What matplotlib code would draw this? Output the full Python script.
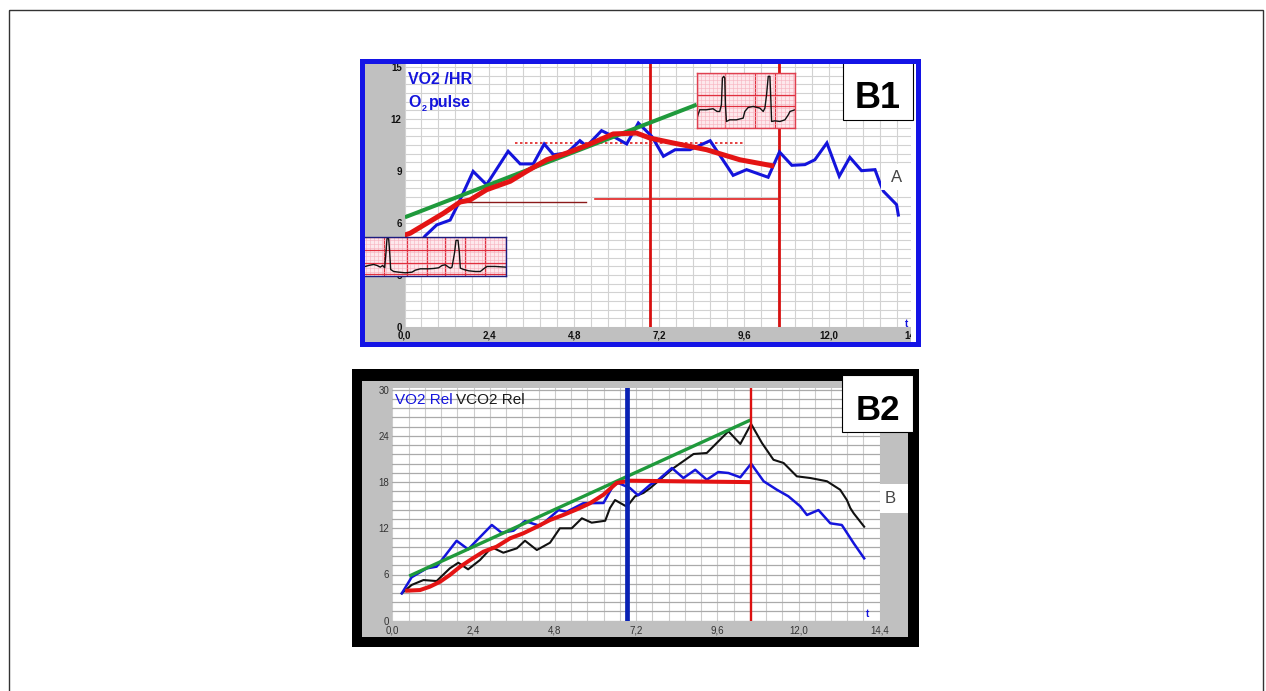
import matplotlib
matplotlib.use('Agg')
import matplotlib.pyplot as plt
from matplotlib.patches import Rectangle
from matplotlib.ticker import MultipleLocator

W, H = 1266, 691
plt.rcParams['font.family'] = ['Liberation Sans', 'DejaVu Sans']

# ---------------- B1 data : O2 pulse (VO2/HR) ----------------
b1_pulse_t = [0.45, 0.58, 0.91, 1.29, 1.48, 1.94, 2.32, 2.93, 3.27, 3.64, 3.95, 4.21, 4.59,
              4.96, 5.15, 5.57, 5.90, 6.28, 6.61, 6.99, 7.32, 7.65, 8.07, 8.64, 9.29,
              9.67, 10.28, 10.60, 10.95, 11.32, 11.60, 11.94, 12.29, 12.59, 12.92,
              13.30, 13.44, 13.54, 13.91, 13.96]
b1_pulse = [4.9, 5.25, 5.89, 6.17, 6.94, 8.98, 8.21, 10.14, 9.41, 9.41, 10.56, 9.94, 10.04,
            10.75, 10.43, 11.33, 11.00, 10.56, 11.77, 11.00, 9.85, 10.23, 10.23, 10.75, 8.75,
            9.08, 8.64, 10.10, 9.33, 9.37, 9.65, 10.62, 8.70, 9.79, 9.02,
            9.08, 8.31, 7.83, 7.06, 6.46]
b1_smooth_t = [0.0, 0.16, 1.10, 1.57, 1.85, 2.32, 2.99, 3.45, 4.02, 4.59, 5.15, 5.90,
               6.56, 6.94, 7.59, 8.54, 9.48, 10.38]
b1_smooth = [5.30, 5.41, 6.56, 7.21, 7.33, 7.92, 8.41, 8.98, 9.65, 10.04, 10.48, 11.14,
             11.19, 10.90, 10.62, 10.23, 9.65, 9.31]
b1_trend_t = [0.01, 8.26]
b1_trend = [6.33, 12.83]
b1_vlines = [6.94, 10.60]
b1_dotted_t = [3.12, 9.57]
b1_dotted_y = 10.63
b1_hline1_t = [1.65, 5.13]
b1_hline1_y = 7.21
b1_hline2_t = [5.39, 10.59]
b1_hline2_y = 7.40
b1_xticks = [0.0, 2.4, 4.8, 7.2, 9.6, 12.0]
b1_xlabels = ['0,0', '2,4', '4,8', '7,2', '9,6', '12,0']
b1_yticks = [0, 3, 6, 9, 12, 15]
b1_ylabels = ['0', '3', '6', '9', '12', '15']

# ---------------- B2 data : VO2 Rel / VCO2 Rel ----------------
b2_vo2_t = [0.28, 0.57, 1.02, 1.31, 1.90, 2.24, 2.94, 3.23, 3.58, 3.92, 4.37, 4.91, 5.15,
            5.64, 6.24, 6.53, 6.68, 7.02, 7.26, 7.62, 7.81, 8.26, 8.60, 8.95, 9.29, 9.63,
            9.93, 10.28, 10.60, 10.97, 11.36, 11.70, 12.05, 12.25, 12.59, 12.94, 13.28,
            13.63, 13.94]
b2_vo2 = [3.55, 5.64, 6.80, 7.02, 10.38, 9.27, 12.43, 11.42, 11.69, 12.94, 12.30, 14.37, 14.15,
          15.25, 15.29, 17.58, 17.88, 17.23, 16.29, 17.66, 18.11, 19.83, 18.53, 19.60, 18.31,
          19.31, 19.18, 18.62, 20.39, 18.11, 17.01, 16.16, 14.86, 13.73, 14.37, 12.65,
          12.43, 10.06, 8.10]
b2_vco2_t = [0.28, 0.57, 0.92, 1.31, 1.70, 1.95, 2.24, 2.59, 2.94, 3.28, 3.68, 3.92, 4.27,
             4.66, 4.95, 5.30, 5.60, 5.89, 6.29, 6.43, 6.58, 6.93, 7.17, 7.42, 7.62, 8.31,
             8.90, 9.29, 9.93, 10.28, 10.60, 10.92, 11.26, 11.56, 11.95, 12.35, 12.84,
             13.23, 13.43, 13.53, 13.63, 13.94]
b2_vco2 = [3.55, 4.64, 5.28, 5.15, 6.80, 7.53, 6.67, 7.88, 9.53, 8.83, 9.40, 10.39, 9.18,
           10.13, 12.00, 12.00, 13.30, 12.73, 12.98, 14.63, 15.67, 14.80, 16.15, 16.59, 17.23,
           19.83, 21.65, 21.78, 24.60, 22.95, 25.55, 23.08, 20.90, 20.48, 18.75, 18.53,
           18.11, 17.01, 15.67, 14.63, 13.95, 12.21]
b2_smooth_t = [0.44, 0.82, 1.11, 1.41, 1.70, 2.00, 2.30, 2.69, 3.08, 3.48, 3.87, 4.27, 4.66,
               5.05, 5.45, 5.84, 6.24, 6.63, 7.02, 7.60, 8.50, 9.50, 10.52]
b2_smooth = [3.90, 3.98, 4.42, 5.06, 5.94, 7.00, 7.88, 8.96, 9.61, 10.70, 11.35, 12.20, 13.08,
             13.73, 14.46, 15.25, 16.37, 17.89, 18.18, 18.15, 18.10, 18.05, 18.00]
b2_trend_t = [0.50, 10.60]
b2_trend = [5.80, 26.10]
b2_vline_blue = 6.92
b2_vline_red = 10.60
b2_xticks = [0.0, 2.4, 4.8, 7.2, 9.6, 12.0, 14.4]
b2_xlabels = ['0,0', '2,4', '4,8', '7,2', '9,6', '12,0', '14,4']
b2_yticks = [0, 6, 12, 18, 24, 30]
b2_ylabels = ['0', '6', '12', '18', '24', '30']

# ---------------- ECG strip traces (inset picture coordinates) ----------------
ecg1_x = [3, 20, 35, 45, 55, 62, 68, 72, 75, 80, 83, 86, 95, 110, 130, 150, 160, 175, 200,
          215, 230, 240, 250, 258, 265, 270, 278, 282, 288, 292, 295, 305, 320, 340, 355,
          365, 375, 400, 432]
ecg1_y = [105, 100, 97, 100, 105, 100, 107, 60, 20, 20, 60, 112, 118, 120, 122, 120, 114,
          110, 110, 109, 107, 100, 98, 104, 108, 105, 60, 25, 25, 60, 108, 112, 116, 118,
          118, 110, 103, 103, 105]
ecg1_major_x = [3, 65, 135, 195, 250, 310, 370, 432]
ecg1_major_y = [15, 55, 93, 127]
ecg2_x = [12, 20, 40, 60, 72, 80, 85, 88, 92, 95, 97, 100, 110, 130, 150, 155, 165, 180,
          200, 210, 215, 220, 225, 230, 233, 235, 245, 260, 275, 285, 290, 305]
ecg2_y = [150, 125, 125, 122, 130, 130, 110, 30, 25, 30, 110, 160, 155, 155, 150, 130, 118,
          115, 120, 130, 120, 80, 25, 25, 100, 160, 158, 160, 155, 140, 130, 125]
ecg2_major_x = [12, 95, 185, 245, 305]
ecg2_major_y = [15, 80, 115, 178]

# ---------------- colours ----------------
BLUE = '#1414dc'
RED = '#e41414'
GREEN = '#1f9a3c'
GRAY = '#c0c0c0'

fig = plt.figure(figsize=(W / 100, H / 100), dpi=100)


def px_axes(x0, y0, x1, y1, z):
    return fig.add_axes([x0 / W, 1 - y1 / H, (x1 - x0) / W, (y1 - y0) / H], zorder=z)


def rect(ax, x0, y0, x1, y1, **kw):
    ax.add_patch(Rectangle((x0, y0), x1 - x0, y1 - y0, **kw))


bg = px_axes(0, 0, W, H, 0)
bg.set_xlim(0, W)
bg.set_ylim(H, 0)
bg.axis('off')
rect(bg, 8.5, 9.5, 1262.5, 720, fill=False, ec='#333333', lw=1.0)
# B1 frame background
rect(bg, 362, 60, 917, 344, fc='white', ec='none')
rect(bg, 364, 62, 404.5, 342, fc=GRAY, ec='none')
rect(bg, 364, 327, 910.5, 342, fc=GRAY, ec='none')
# B2 frame background
rect(bg, 352, 369, 919, 647, fc='black', ec='none')
rect(bg, 362, 381, 908, 637, fc=GRAY, ec='none')

# ================= B1 plot =================
ax1 = px_axes(404.5, 61.5, 910.5, 327, 1)
ax1.set_xlim(0, (910.5 - 404.5) / 35.375)
ax1.set_ylim(0, (327 - 61.5) / 17.33)
ax1.xaxis.set_minor_locator(MultipleLocator(0.48))
ax1.yaxis.set_minor_locator(MultipleLocator(0.5))
ax1.set_axisbelow(True)
ax1.grid(which='both', color='#d2d2d2', lw=0.8)
ax1.set_xticks(b1_xticks, b1_xlabels)
ax1.set_yticks(b1_yticks, b1_ylabels)
ax1.tick_params(which='both', length=0, labelsize=7, colors='#111111')
ax1.tick_params(axis='x', pad=2.5)
ax1.tick_params(axis='y', pad=2.0)
for lab in ax1.get_xticklabels() + ax1.get_yticklabels():
    lab.set_fontweight('bold')
for s in ax1.spines.values():
    s.set_visible(False)
ax1.text(14.4, -0.2, '14,4', ha='center', va='top', fontsize=7, fontweight='bold',
         color='#111111', clip_on=False)
ax1.text(14.2, -0.1, 't', ha='center', va='bottom', fontsize=7, fontweight='bold', color=BLUE)

for xv in b1_vlines:
    ax1.axvline(xv, color='#d81010', lw=2.0, zorder=2)
ax1.plot(b1_hline1_t, [b1_hline1_y] * 2, color='#8b1a1a', lw=1.0, zorder=2)
ax1.plot(b1_hline2_t, [b1_hline2_y] * 2, color='#e02020', lw=1.2, zorder=2)
ax1.plot(b1_dotted_t, [b1_dotted_y] * 2, color='#e02020', lw=1.2, ls=(0, (1.5, 1.5)), zorder=2)
ax1.plot(b1_pulse_t, b1_pulse, color=BLUE, lw=2.2, zorder=3, solid_joinstyle='miter')
ax1.plot(b1_trend_t, b1_trend, color=GREEN, lw=2.9, zorder=4, solid_capstyle='butt')
ax1.plot(b1_smooth_t, b1_smooth, color=RED, lw=3.6, zorder=5)
ax1.set_facecolor('white')


# ECG insets in B1
def ecg_inset(box, xs, ys, xl, yl, mx, my, edge):
    e = px_axes(*box, 3)
    e.set_facecolor('#fde8ec')
    e.set_xlim(*xl)
    e.set_ylim(*yl)
    e.xaxis.set_minor_locator(MultipleLocator(12))
    e.yaxis.set_minor_locator(MultipleLocator(12))
    e.set_xticks(mx)
    e.set_yticks(my)
    e.tick_params(which='both', length=0, labelbottom=False, labelleft=False)
    e.set_axisbelow(True)
    e.grid(which='minor', color='#f6b0bc', lw=0.4)
    e.grid(which='major', color='#e0303f', lw=0.9)
    e.plot(xs, ys, color='#111111', lw=1.0)
    for s in e.spines.values():
        s.set_color(edge)
        s.set_linewidth(1.0)
    return e


ecg_inset((363, 237, 506, 275.5), ecg1_x, ecg1_y, (3, 432), (130, 15),
          ecg1_major_x, ecg1_major_y, '#1c1c80')
ecg_inset((697, 73, 795, 127.5), ecg2_x, ecg2_y, (12, 305), (178, 15),
          ecg2_major_x, ecg2_major_y, '#e04050')

# ================= B2 plot =================
ax2 = px_axes(392.3, 388, 392.3 + 14.4 * 33.85, 620.7, 1)
ax2.set_xlim(0, 14.4)
ax2.set_ylim(0, (620.7 - 388) / 7.7)
ax2.xaxis.set_minor_locator(MultipleLocator(0.48))
ax2.yaxis.set_minor_locator(MultipleLocator(1.2))
ax2.set_axisbelow(True)
ax2.grid(which='both', axis='x', color='#cccccc', lw=0.8)
ax2.grid(which='both', axis='y', color='#aaaaaa', lw=0.9)
ax2.set_xticks(b2_xticks, b2_xlabels)
ax2.set_yticks(b2_yticks, b2_ylabels)
ax2.tick_params(which='both', length=0, labelsize=7, colors='#333333')
ax2.tick_params(axis='x', pad=3.6)
ax2.tick_params(axis='y', pad=2.2)
for s in ax2.spines.values():
    s.set_visible(False)
ax2.set_facecolor('white')
ax2.text(14.05, 0.2, 't', ha='center', va='bottom', fontsize=7, fontweight='bold', color=BLUE)

ax2.plot(b2_vco2_t, b2_vco2, color='#111111', lw=1.5, zorder=3)
ax2.plot(b2_vo2_t, b2_vo2, color=BLUE, lw=1.8, zorder=4)
ax2.plot(b2_trend_t, b2_trend, color=GREEN, lw=2.4, zorder=5, solid_capstyle='butt')
ax2.plot(b2_smooth_t, b2_smooth, color=RED, lw=2.9, zorder=6)
ax2.axvline(b2_vline_blue, color='#0a22b4', lw=3.4, zorder=7)
ax2.axvline(b2_vline_red, color='#dd1010', lw=1.7, zorder=7)

# ================= overlay: frames, labels =================
ov = px_axes(0, 0, W, H, 6)
ov.set_xlim(0, W)
ov.set_ylim(H, 0)
ov.axis('off')
ov.patch.set_alpha(0)
# B1
rect(ov, 910.5, 62, 935, 342.5, fc='white', ec='none')
rect(ov, 843, 61.5, 913, 119.5, fc='white', ec='black', lw=0.8)
rect(ov, 362, 60.5, 917.5, 344, fill=False, ec='#1414e6', lw=3.6)
rect(ov, 881, 164, 912, 190, fc='white', ec='none')
ov.text(897, 177, 'A', ha='center', va='center', fontsize=12, color='#444444')
ov.text(878, 108, 'B1', ha='center', va='baseline', fontsize=26, fontweight='bold',
        color='black')
ov.text(408, 84, 'VO2 /HR', ha='left', va='baseline', fontsize=11.5, fontweight='bold',
        color=BLUE)
ov.text(408, 107, 'O', ha='left', va='baseline', fontsize=11.5, fontweight='bold', color=BLUE)
ov.text(421.5, 111, '2', ha='left', va='baseline', fontsize=6.5, fontweight='bold', color=BLUE)
ov.text(429, 107, 'pulse', ha='left', va='baseline', fontsize=11.5, fontweight='bold',
        color=BLUE)
# B2
rect(ov, 842, 375, 913, 432, fc='white', ec='black', lw=0.8)
rect(ov, 879.7, 484, 907.5, 513, fc='white', ec='none')
ov.text(890, 498.5, 'B', ha='center', va='center', fontsize=12, color='#444444')
ov.text(878, 419.5, 'B2', ha='center', va='baseline', fontsize=25, fontweight='bold',
        color='black')
ov.text(395, 404, 'VO2 Rel', ha='left', va='baseline', fontsize=11, color=BLUE)
ov.text(456, 404, 'VCO2 Rel', ha='left', va='baseline', fontsize=11, color='#1a1a1a')

fig.savefig('out.png', dpi=100, facecolor='white')
